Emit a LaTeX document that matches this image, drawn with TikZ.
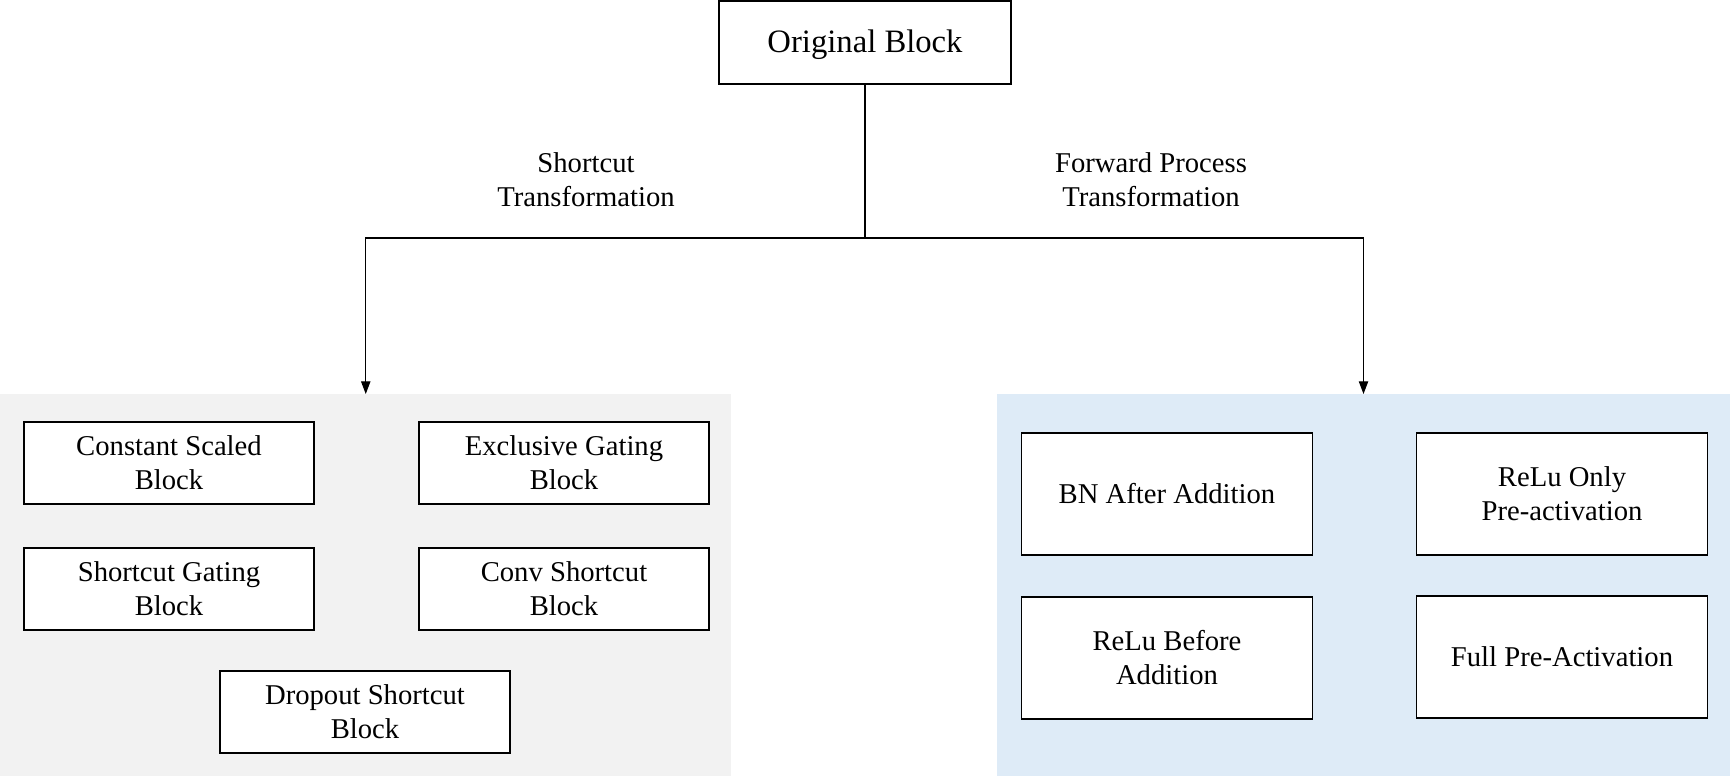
\documentclass[tikz,border=0pt]{standalone}
\usepackage{fontspec}
\setmainfont{Liberation Serif}
\usetikzlibrary{arrows.meta}
\definecolor{greypanel}{HTML}{F2F2F2}
\definecolor{bluepanel}{HTML}{DEEBF7}
\tikzset{
  box/.style={draw=black, line width=1.1pt, fill=white, align=center, inner sep=2pt, outer sep=0pt, font=\fontsize{21.5}{25.5}\selectfont},
  lbox/.style={box, minimum width=217.5pt, minimum height=61.5pt},
  rbox/.style={box, minimum width=218pt, minimum height=91.5pt},
  panel/.style={draw=none, inner sep=0pt, outer sep=0pt},
  lbl/.style={align=center, font=\fontsize{21.5}{25.5}\selectfont},
  arr/.style={line width=0.8pt, -{Triangle[length=9.5pt,width=7pt]}},
}
\begin{document}
\begin{tikzpicture}[x=0.75pt,y=-0.75pt]
\useasboundingbox (0,0) rectangle (1730,776);
\node[panel, fill=greypanel, minimum width=548.6pt, minimum height=286.5pt] (lp) at (365.75,585) {};
\node[panel, fill=bluepanel, minimum width=549.75pt, minimum height=286.5pt] (rp) at (1363.5,585) {};
\node[box, minimum width=219pt, minimum height=62pt, text depth=2pt, font=\fontsize{24.5}{28}\selectfont] (ob) at (865,42.5) {Original Block};
\node[lbl] (t1) at (586,180) {Shortcut\\Transformation};
\node[lbl] (t2) at (1151,180) {Forward Process\\Transformation};
\draw[arr] (ob.south) -- (ob.south |- 0,238) -| (lp.north);
\draw[arr] (ob.south) -- (ob.south |- 0,238) -| (rp.north);
\node[lbox] (cs) at (169,463) {Constant Scaled\\Block};
\node[lbox] (eg) at (564,463) {Exclusive Gating\\Block};
\node[lbox] (sg) at (169,589) {Shortcut Gating\\Block};
\node[lbox] (cv) at (564,589) {Conv Shortcut\\Block};
\node[lbox] (ds) at (365,712) {Dropout Shortcut\\Block};
\node[rbox] (bn) at (1167,494) {BN After Addition};
\node[rbox] (ro) at (1562,494) {ReLu Only\\Pre-activation};
\node[rbox] (rb) at (1167,658) {ReLu Before\\Addition};
\node[rbox] (fp) at (1562,657) {Full Pre-Activation};
\end{tikzpicture}
\end{document}
